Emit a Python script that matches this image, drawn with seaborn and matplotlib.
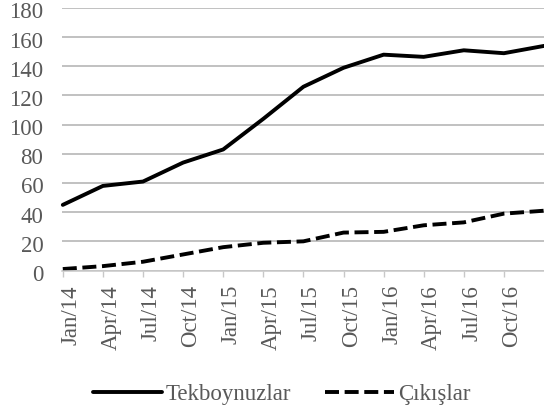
import matplotlib
matplotlib.use("Agg")
import matplotlib.pyplot as plt
import matplotlib.transforms as mtransforms
from matplotlib.lines import Line2D
import seaborn as sns
import pandas as pd

quarters = ["Jan/14", "Apr/14", "Jul/14", "Oct/14", "Jan/15", "Apr/15", "Jul/15",
            "Oct/15", "Jan/16", "Apr/16", "Jul/16", "Oct/16", "Jan/17"]
tick_labels = quarters[:-1]
tekboynuzlar = [45, 58, 61, 74, 83, 104, 126, 139, 148, 146.5, 151, 149, 154]
cikislar = [1, 3, 6, 11, 16, 19, 20, 26, 26.5, 31, 33, 39, 41]
series_names = ["Tekboynuzlar", "Çıkışlar"]

df = pd.DataFrame({
    "x": list(range(len(quarters))) * 2,
    "value": tekboynuzlar + cikislar,
    "series": [series_names[0]] * len(quarters) + [series_names[1]] * len(quarters),
})

sns.set_theme(style="white")
plt.rcParams["font.family"] = ["Liberation Serif", "DejaVu Serif"]

W, H = 544, 413
fig = plt.figure(figsize=(W / 100, H / 100), dpi=100)
ax = fig.add_axes([62 / W, 1 - 270.5 / H, 1 - 62 / W, (270.5 - 8) / H])

DASH = (3.6, 1.45)
LW = 2.8
sns.lineplot(data=df, x="x", y="value", style="series", style_order=series_names,
             dashes={series_names[0]: "", series_names[1]: DASH},
             color="black", linewidth=LW, ax=ax, legend=False)
for ln in ax.lines:
    ln.set_solid_capstyle("round")
    ln.set_clip_on(False)

ax.set_ylim(0, 180)
ax.set_yticks(range(0, 181, 20))
ax.set_xlim(-0.02, 12.0)
ax.set_xticks(range(len(tick_labels)))
ax.set_xticklabels(tick_labels, rotation=90)
ax.yaxis.grid(True, color="#b0b0b0", linewidth=1.1)
ax.set_axisbelow(True)
for s in ["top", "right", "left"]:
    ax.spines[s].set_visible(False)
ax.spines["bottom"].set_color("#c8c8c8")
ax.spines["bottom"].set_linewidth(1.1)
ax.tick_params(axis="x", which="both", bottom=True, length=4, width=1,
               color="#c8c8c8", labelsize=16.5, labelcolor="#595959", pad=6.5)
ax.tick_params(axis="y", left=False, labelsize=16.5, labelcolor="#595959", pad=7.5)
xoff = mtransforms.ScaledTranslation(8 / 100, 0, fig.dpi_scale_trans)
for lbl in ax.get_xticklabels():
    lbl.set_transform(lbl.get_transform() + xoff)
yoff = mtransforms.ScaledTranslation(0, -2.5 / 100, fig.dpi_scale_trans)
for lbl in ax.get_yticklabels():
    lbl.set_transform(lbl.get_transform() + yoff)
ax.set_xlabel("")
ax.set_ylabel("")

handles = [Line2D([], [], color="black", lw=LW, solid_capstyle="round"),
           Line2D([], [], color="black", lw=LW, dashes=DASH)]
leg = fig.legend(handles, series_names, loc="center", bbox_to_anchor=(0.518, 0.045),
                 ncol=2, frameon=False, fontsize=16.5, handlelength=3.0,
                 handletextpad=0.15, columnspacing=1.5, borderpad=0, borderaxespad=0)
for t in leg.get_texts():
    t.set_color("#595959")

fig.savefig("out.png", dpi=100)
